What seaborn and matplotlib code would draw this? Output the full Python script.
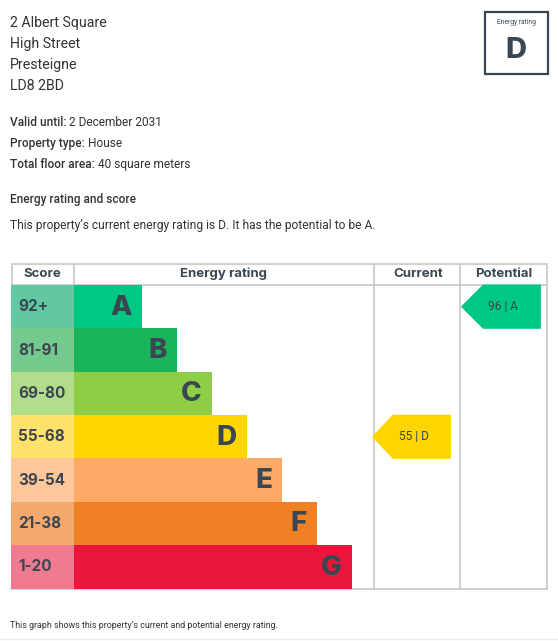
import matplotlib
matplotlib.use("Agg")
import matplotlib.pyplot as plt
import matplotlib.transforms as mtransforms
from matplotlib.patches import Rectangle, Polygon
import seaborn as sns
import pandas as pd

# ---------------- data ----------------
address_lines = ["2 Albert Square", "High Street", "Presteigne", "LD8 2BD"]
details_labels = ["Valid until:", "Property type:", "Total floor area:"]
details_values = ["2 December 2031", "House", "40 square meters"]
section_title = "Energy rating and score"
summary_text = "This property\u2019s current energy rating is D. It has the potential to be A."
footer_text = "This graph shows this property\u2019s current and potential energy rating."

bands = ["A", "B", "C", "D", "E", "F", "G"]
score_ranges = ["92+", "81-91", "69-80", "55-68", "39-54", "21-38", "1-20"]
bar_length = [68, 103, 138, 173, 208, 243, 278]
bar_colors = ["#00c781", "#19b459", "#8dce46", "#ffd500", "#fcaa65", "#ef8023", "#e9153b"]
score_colors = ["#62c8a2", "#74c98c", "#b2dd8a", "#ffe26c", "#fdc69b", "#f3a86c", "#f07a90"]
header_labels = ["Score", "Energy rating", "Current", "Potential"]

current_score, current_band = 55, "D"
potential_score, potential_band = 96, "A"
overall_rating = "D"

# ---------------- style ----------------
sns.set_theme(style="white")
plt.rcParams["font.family"] = ["Roboto", "DejaVu Sans"]
TXT = "#333333"
DARK = "#3a4651"
GRID = "#cccccc"

W, H = 558, 641
fig = plt.figure(figsize=(W / 100, H / 100), dpi=100)
fig.patch.set_facecolor("white")

def fx(px):
    return px / W

def fy(py):
    return 1 - py / H

# background axes in pixel coordinates
bg = fig.add_axes([0, 0, 1, 1])
bg.set_xlim(0, W)
bg.set_ylim(H, 0)
bg.axis("off")

# address
for i, line in enumerate(address_lines):
    bg.text(10, 23 + i * 21, line, fontsize=10.2, color=TXT, va="center", ha="left")

# details
for i, (lab, val) in enumerate(zip(details_labels, details_values)):
    t = bg.text(10, 129 + i * 21, lab, fontsize=8.6, color=TXT, fontweight="medium",
                va="bottom", ha="left")
    bg.annotate(" " + val, xy=(1, 0), xycoords=t, fontsize=8.6, color=TXT,
                va="bottom", ha="left")

bg.text(10, 200, section_title, fontsize=8.6, color=TXT, fontweight="medium", va="center")
bg.text(10, 226, summary_text, fontsize=8.65, color=TXT, va="center")
bg.text(10, 625, footer_text, fontsize=6.4, color=TXT, va="center")

# rating box
bg.add_patch(Rectangle((484.5, 11.5), 63, 62.5, fill=False, edgecolor=DARK, linewidth=1.6))
bg.text(516, 22, "Energy rating", fontsize=4.8, color=DARK, ha="center", va="center")
bg.text(516, 50, overall_rating, fontsize=21, color=DARK, ha="center", va="center",
        fontweight="heavy", family=["Inter", "DejaVu Sans"])

# faint separators
bg.plot([0, W], [638.5, 638.5], color="#eeeeee", lw=1)

# ---------------- chart axes ----------------
row_top, row_bot = 285, 588.5
b = fy(row_bot)
h = (row_bot - row_top) / H

def make_ax(x0, x1):
    ax = fig.add_axes([fx(x0), b, fx(x1 - x0), h])
    ax.set_facecolor("none")
    ax.axis("off")
    return ax

ax_score = make_ax(11, 74)
ax_rate = make_ax(74, 374)
ax_cur = make_ax(374, 460)
ax_pot = make_ax(460, 547)

df = pd.DataFrame({"band": bands, "score": score_ranges, "length": bar_length,
                   "full": [1] * len(bands)})

sns.barplot(data=df, x="full", y="score", hue="score", palette=score_colors, orient="h",
            width=1.0, saturation=1, legend=False, linewidth=0, ax=ax_score)
ax_score.set_xlim(0, 1)
ax_score.set_ylim(len(bands) - 0.5, -0.5)
ax_score.axis("off")

sns.barplot(data=df, x="length", y="band", hue="band", palette=bar_colors, orient="h",
            width=1.0, saturation=1, legend=False, linewidth=0, ax=ax_rate)
ax_rate.set_xlim(0, 300)
ax_rate.set_ylim(len(bands) - 0.5, -0.5)
ax_rate.axis("off")

bold_font = ["Inter", "DejaVu Sans"]
for i, (lab, ln) in enumerate(zip(score_ranges, bar_length)):
    ax_score.text(0.11, i, lab, fontsize=11, fontweight="bold", color=DARK,
                  va="center", ha="left", family=bold_font)
    ax_rate.text(ln - 10, i + 0.02, bands[i], fontsize=20, fontweight="heavy", color=DARK,
                 va="center", ha="right", family=bold_font)

def arrow(ax, band, score, color, tip, notch, right):
    i = bands.index(band)
    tr = mtransforms.blended_transform_factory(ax.transAxes, ax.transData)
    pts = [(tip, i), (notch, i - 0.51), (right, i - 0.51), (right, i + 0.51), (notch, i + 0.51)]
    ax.add_patch(Polygon(pts, closed=True, facecolor=color, edgecolor="none",
                         transform=tr, clip_on=False, zorder=3))
    ax.text((tip + right) / 2 + 0.03, i, f"{score} | {band}", transform=tr, fontsize=8.6,
            color=DARK, ha="center", va="center", zorder=4)
    ax.set_ylim(len(bands) - 0.5, -0.5)

arrow(ax_cur, current_band, current_score, bar_colors[bands.index(current_band)],
      -0.025, 0.22, 0.895)
arrow(ax_pot, potential_band, potential_score, bar_colors[bands.index(potential_band)],
      0.01, 0.265, 0.93)

# ---------------- table grid & header ----------------
top, hdr, bot = 263.5, 284.5, 589
left, right = 11.5, 547
for x in [74, 374, 460]:
    bg.plot([x, x], [top, bot], color=GRID, lw=1.3, zorder=1)
bg.plot([left, right], [hdr, hdr], color=GRID, lw=1.3, zorder=1)
bg.add_patch(Rectangle((left, top), right - left, bot - top, fill=False,
                       edgecolor=GRID, linewidth=1.3, zorder=1))
hx = [(11 + 74) / 2, (74 + 374) / 2, (374 + 460) / 2 + 1, (460 + 547) / 2]
for x, lab in zip(hx, header_labels):
    bg.text(x, 274, lab, fontsize=9.5, fontweight="bold", color=DARK, ha="center",
            va="center", family=bold_font)

fig.savefig("out.png", dpi=100, facecolor="white")
